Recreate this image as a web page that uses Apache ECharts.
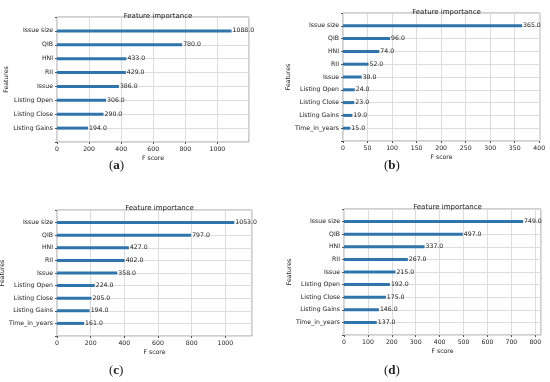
<!DOCTYPE html>
<html><head><meta charset="utf-8">
<script src="https://cdn.jsdelivr.net/npm/echarts@6/dist/echarts.min.js"></script>
<style>html,body{margin:0;padding:0;background:#fff}#c{width:550px;height:382px}</style>
</head><body><div id="c"></div>
<script>
const catsA = ['Issue size','QIB','HNI','RII','Issue','Listing Open','Listing Close','Listing Gains'];
const valsA = [1088,780,433,429,386,306,290,194];
const catsB = ['Issue size','QIB','HNI','RII','Issue','Listing Open','Listing Close','Listing Gains','Time_in_years'];
const valsB = [365,96,74,52,38,24,23,19,15];
const catsC = ['Issue size','QIB','HNI','RII','Issue','Listing Open','Listing Close','Listing Gains','Time_in_years'];
const valsC = [1053,797,427,402,358,224,205,194,161];
const catsD = ['Issue size','QIB','HNI','RII','Issue','Listing Open','Listing Close','Listing Gains','Time_in_years'];
const valsD = [749,497,337,267,215,192,175,146,137];
const xIntervals = [200,50,200,100];
const captions = ['a','b','c','d'];

const panels = [
  {cats:catsA, vals:valsA, grid:{left:57,top:17,width:192,height:125}, nameGap:42, titleTop:8},
  {cats:catsB, vals:valsB, grid:{left:343,top:13,width:197,height:128}, nameGap:49, titleTop:4},
  {cats:catsC, vals:valsC, grid:{left:57,top:210,width:195,height:126}, nameGap:47, titleTop:200},
  {cats:catsD, vals:valsD, grid:{left:344,top:209,width:197,height:126}, nameGap:48, titleTop:199}
];
const capPos = [[118,167],[393,167],[118,372],[393,372]];
const font = 'DejaVu Sans';
const txt = '#222';
const option = {animation:false, backgroundColor:'#fff', title:[], grid:[], xAxis:[], yAxis:[], series:[], graphic:[]};
panels.forEach((p,i)=>{
  const iv = xIntervals[i];
  const mx = Math.max(...p.vals)*1.1;
  option.grid.push(Object.assign({show:true, borderColor:'#a0a0a0', borderWidth:1, containLabel:false, outerBoundsMode:'none'}, p.grid));
  option.title.push({text:'Feature importance', left:p.grid.left+p.grid.width/2, top:p.titleTop, textAlign:'center',
    textStyle:{fontFamily:font, fontSize:7, fontWeight:'normal', color:txt}});
  option.xAxis.push({type:'value', gridIndex:i, min:0, max:mx, interval:iv,
    name:'F score', nameLocation:'middle', nameGap:13, nameTextStyle:{fontFamily:font,fontSize:6.2,color:txt},
    axisLine:{show:false}, axisTick:{show:true, length:2, lineStyle:{color:'#555'}},
    axisLabel:{fontFamily:font, fontSize:6.2, color:txt, margin:4, showMaxLabel:false,
      formatter:v=> (Math.abs(v/iv-Math.round(v/iv))<1e-6 ? String(Math.round(v)) : '')},
    splitLine:{show:true, lineStyle:{color:'#dcdcdc', width:1}}});
  const padded = [''].concat(p.cats, ['']);
  const data = [null].concat(p.vals, [null]);
  option.yAxis.push({type:'category', gridIndex:i, data:padded, inverse:true, boundaryGap:false,
    name:'Features', nameLocation:'middle', nameGap:p.nameGap, nameRotate:90, nameTextStyle:{fontFamily:font,fontSize:6.2,color:txt},
    axisLine:{show:false}, axisTick:{show:true, length:2, lineStyle:{color:'#555'}, alignWithLabel:true},
    axisLabel:{fontFamily:font, fontSize:6.2, color:txt, margin:4, interval:0},
    splitLine:{show:true, lineStyle:{color:'#dcdcdc', width:1}}});
  option.series.push({type:'bar', xAxisIndex:i, yAxisIndex:i, data:data, barWidth:3,
    itemStyle:{color:'#2f74ab'},
    label:{show:true, position:'right', distance:1, fontFamily:font, fontSize:6.2, color:txt,
      formatter:d=> d.value==null ? '' : Number(d.value).toFixed(1)}});
  option.graphic.push({type:'text', left:capPos[i][0]-9, top:capPos[i][1]-8,
    style:{text:'{p|(}{b|'+captions[i]+'}{p|)}', rich:{p:{fontFamily:'Liberation Serif',fontSize:13,fill:'#222'}, b:{fontFamily:'Liberation Serif',fontSize:13,fontWeight:'bold',fill:'#222'}}}});
});
const chart = echarts.init(document.getElementById('c'), null, {renderer:'canvas'});
chart.setOption(option);
</script></body></html>
